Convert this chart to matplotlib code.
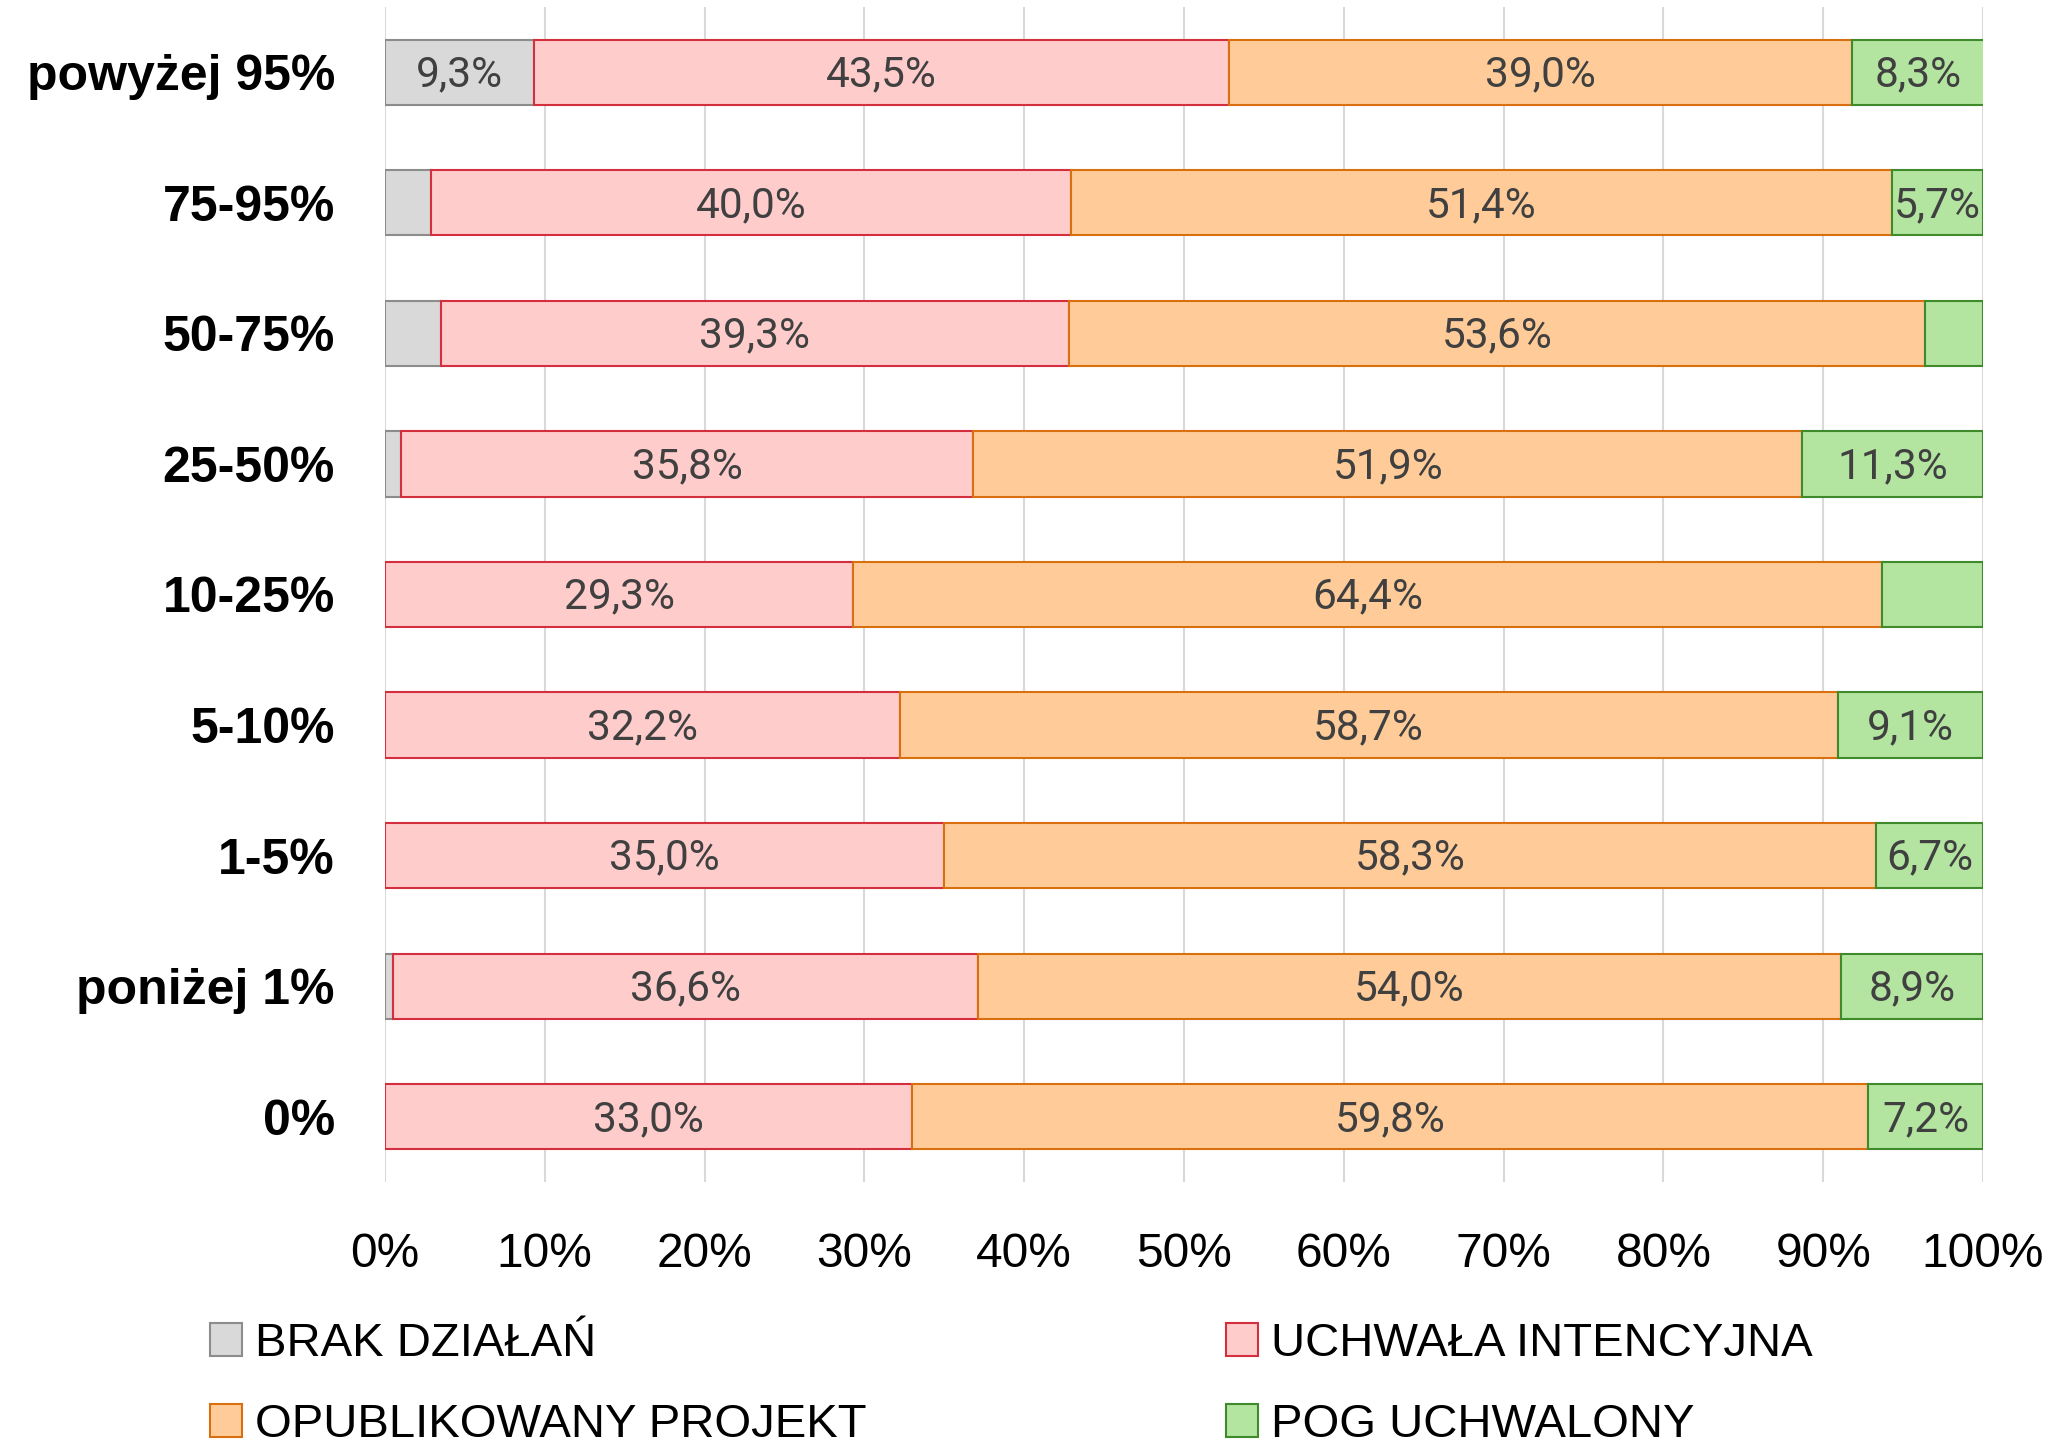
import matplotlib
matplotlib.use("Agg")
import matplotlib.pyplot as plt
import numpy as np

categories = ["powyżej 95%", "75-95%", "50-75%", "25-50%", "10-25%",
              "5-10%", "1-5%", "poniżej 1%", "0%"]
brak = [9.3, 2.9, 3.5, 1.0, 0.0, 0.0, 0.0, 0.5, 0.0]
uchwala = [43.5, 40.0, 39.3, 35.8, 29.3, 32.2, 35.0, 36.6, 33.0]
opub = [39.0, 51.4, 53.6, 51.9, 64.4, 58.7, 58.3, 54.0, 59.8]
pog = [8.3, 5.7, 3.6, 11.3, 6.3, 9.1, 6.7, 8.9, 7.2]
series_names = ["BRAK DZIAŁAŃ", "UCHWAŁA INTENCYJNA", "OPUBLIKOWANY PROJEKT", "POG UCHWALONY"]
# which labels are displayed (per series, per category)
show_brak = [True, False, False, False, False, False, False, False, False]
show_uchwala = [True] * 9
show_opub = [True] * 9
show_pog = [True, True, False, True, False, True, True, True, True]
xticks = [0, 10, 20, 30, 40, 50, 60, 70, 80, 90, 100]
xtick_labels = [f"{t}%" for t in xticks]

fills = ["#D9D9D9", "#FFCCCC", "#FFCC99", "#B3E5A1"]
edges = ["#8C8C8C", "#D32F3F", "#D9700F", "#3F8A2A"]

fig = plt.figure(figsize=(20.59, 14.44), dpi=100)
ax = fig.add_axes([385 / 2059, 1 - 1182 / 1444, (1983 - 385) / 2059, (1182 - 7) / 1444])

y = np.arange(len(categories))
left = np.zeros(len(categories))
handles = []
for vals, shows, fc, ec, name in zip([brak, uchwala, opub, pog],
                                     [show_brak, show_uchwala, show_opub, show_pog],
                                     fills, edges, series_names):
    v = np.array(vals)
    bars = ax.barh(y, v, left=left, height=0.5, color=fc, edgecolor=ec,
                   linewidth=1.5, label=name, zorder=3)
    handles.append(bars)
    for yi, (lv, vv, s) in enumerate(zip(left, v, shows)):
        if s and vv > 0:
            ax.text(lv + vv / 2, yi + 0.02, f"{vv:.1f}%".replace(".", ","),
                    ha="center", va="center", fontsize=30.5, color="#404040",
                    family=["Roboto", "DejaVu Sans"], zorder=4)
    left = left + v

ax.set_xlim(0, 100)
ax.set_ylim(len(categories) - 0.5, -0.5)
ax.set_xticks(xticks)
ax.set_xticklabels(xtick_labels, fontsize=34.5, family=["Liberation Sans", "DejaVu Sans"])
ax.set_yticks(y)
ax.set_yticklabels(categories, fontsize=36, fontweight="bold",
                   family=["Liberation Sans", "DejaVu Sans"])
ax.tick_params(axis="x", length=0, pad=36)
ax.tick_params(axis="y", length=0, pad=36)
ax.grid(axis="x", color="#D9D9D9", linewidth=1.5, zorder=0)
ax.grid(axis="y", visible=False)
for s in ax.spines.values():
    s.set_visible(False)

order = [0, 2, 1, 3]
leg = fig.legend([handles[i] for i in order], [series_names[i] for i in order],
                 loc="upper left", bbox_to_anchor=(210 / 2059, 1 - 1322 / 1444),
                 ncol=2, frameon=False,
                 prop={"family": ["Liberation Sans", "DejaVu Sans"], "size": 34},
                 handlelength=0.68, handleheight=0.68, handletextpad=0.28,
                 labelspacing=0.78, columnspacing=7.6, borderaxespad=0, borderpad=0)

fig.savefig("out.png", dpi=100)
